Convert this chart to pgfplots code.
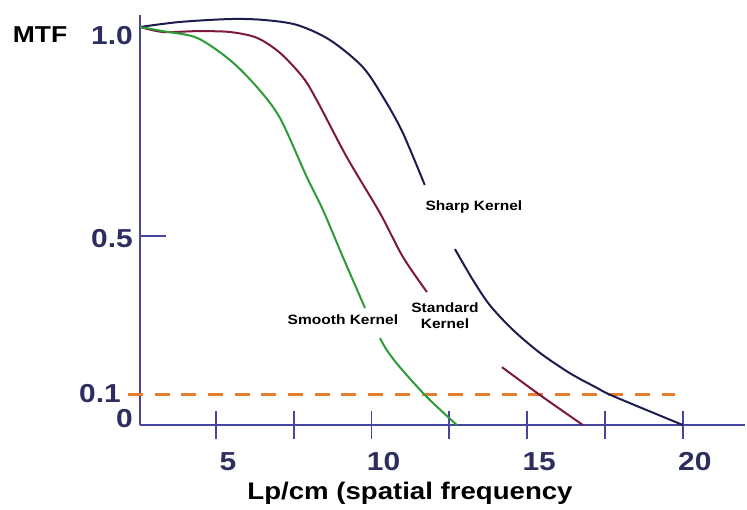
\documentclass[border=0pt]{standalone}
\usepackage{fontspec}
\setmainfont{Liberation Sans}[FakeStretch=1.15]
\usepackage{pgfplots}
\pgfplotsset{compat=1.18}

\definecolor{axisblue}{RGB}{70,70,160}
\definecolor{ticknavy}{RGB}{45,45,95}
\definecolor{sharpc}{RGB}{28,28,80}
\definecolor{standardc}{RGB}{125,25,60}
\definecolor{smoothc}{RGB}{45,155,55}
\definecolor{cutoff}{RGB}{228,125,45}

% MTF curves, split where the kernel names sit
\pgfplotstableread{
x      mtf
2.56   1.000
3.84   1.012
5.45   1.019
6.51   1.017
7.60   1.005
8.66   0.969
9.72   0.904
10.43  0.825
11.01  0.746
11.71  0.622
}\sharpA
\pgfplotstableread{
x      mtf
12.68  0.467
13.26  0.389
13.80  0.326
14.54  0.264
15.41  0.206
16.37  0.155
17.24  0.118
17.75  0.097
20.00  0.000
}\sharpB
\pgfplotstableread{
x      mtf
2.56   1.000
3.30   0.988
4.39   0.990
5.45   0.988
6.32   0.974
7.06   0.938
7.79   0.880
8.24   0.825
9.21   0.688
10.27  0.555
11.01  0.447
11.78  0.359
}\standardA
\pgfplotstableread{
x      mtf
14.19  0.170
15.41  0.100
16.79  0.000
}\standardB
\pgfplotstableread{
x      mtf
2.56   1.000
3.30   0.990
4.39   0.974
5.45   0.921
6.32   0.856
7.06   0.782
7.92   0.641
8.44   0.562
9.08   0.447
9.79   0.319
}\smoothA
\pgfplotstableread{
x      mtf
10.27  0.243
10.49  0.213
10.91  0.170
11.78  0.093
12.74  0.000
}\smoothB

\begin{document}
\begin{tikzpicture}
\useasboundingbox (-140pt,-85pt) rectangle (607pt,425pt);
\begin{axis}[
  at={(0,0)}, anchor=south west,
  scale only axis, width=605pt, height=410pt,
  xmin=2.56, xmax=22, ymin=0, ymax=1.0287,
  % piecewise-linear MTF scale
  y coord trafo/.code={\pgfmathparse{max(3*#1,3.975*#1-0.0975,4.18*#1-0.2)}},
  axis lines=left,
  axis line style={-, draw=axisblue, line width=1.8pt},
  clip=false,
  tick align=center,
  major tick length=28pt,
  xtick={5,7.5,10,12.5,15,17.5,20},
  xticklabels={5,,10,,15,,20},
  x tick style={draw=axisblue, line width=1.8pt},
  xticklabel style={anchor=base, inner sep=0pt, xshift=12pt, yshift=-32pt,
    text=ticknavy, font=\bfseries\fontsize{26}{26}\selectfont},
  ytick={0,0.1,0.5,1.0},
  yticklabels={\smash{\raisebox{-2.5pt}{0}},
               \smash{\raisebox{-7.5pt}{0.1\hspace{12pt}}},
               \smash{\raisebox{-11.5pt}{0.5}},
               \smash{\raisebox{-18pt}{1.0}}},
  y tick style={draw=none},
  yticklabel style={anchor=east, inner sep=0pt, xshift=7pt,
    text=ticknavy, font=\bfseries\fontsize{26}{26}\selectfont},
  extra y ticks={0.5},
  extra y tick labels={},
  extra y tick style={tick align=inside, major tick length=26pt,
    y tick style={draw=axisblue, line width=1.8pt}},
  xlabel={Lp/cm (spatial frequency},
  xlabel style={at={(axis description cs:0.4463,0)}, anchor=base,
    yshift=-75pt, font=\bfseries\fontsize{24}{24}\selectfont},
  ylabel={MTF},
  ylabel style={at={(axis description cs:-0.1653,0.9512)}, rotate=-90,
    anchor=center, font=\bfseries\fontsize{23}{23}\selectfont},
]
  % 0.1 cut-off level
  \addplot[cutoff, line width=3pt, dash pattern=on 15pt off 11.7pt]
    coordinates {(2.17,0.1) (19.75,0.1)};

  \addplot[sharpc, line width=2pt, smooth] table {\sharpA};
  \addplot[sharpc, line width=2pt, smooth] table {\sharpB};
  \addplot[standardc, line width=2pt, smooth] table {\standardA};
  \addplot[standardc, line width=2pt, smooth] table {\standardB};
  \addplot[smoothc, line width=2pt, smooth] table {\smoothA};
  \addplot[smoothc, line width=2pt, smooth] table {\smoothB};

  \node[font=\bfseries\fontsize{13.5}{15.5}\selectfont]
    at (axis cs:13.29,0.569) {Sharp Kernel};
  \node[font=\bfseries\fontsize{13.5}{15.5}\selectfont, align=center]
    at (axis cs:12.36,0.299) {Standard\\Kernel};
  \node[font=\bfseries\fontsize{13.5}{15.5}\selectfont]
    at (axis cs:9.08,0.289) {Smooth Kernel};
\end{axis}
\end{tikzpicture}
\end{document}
